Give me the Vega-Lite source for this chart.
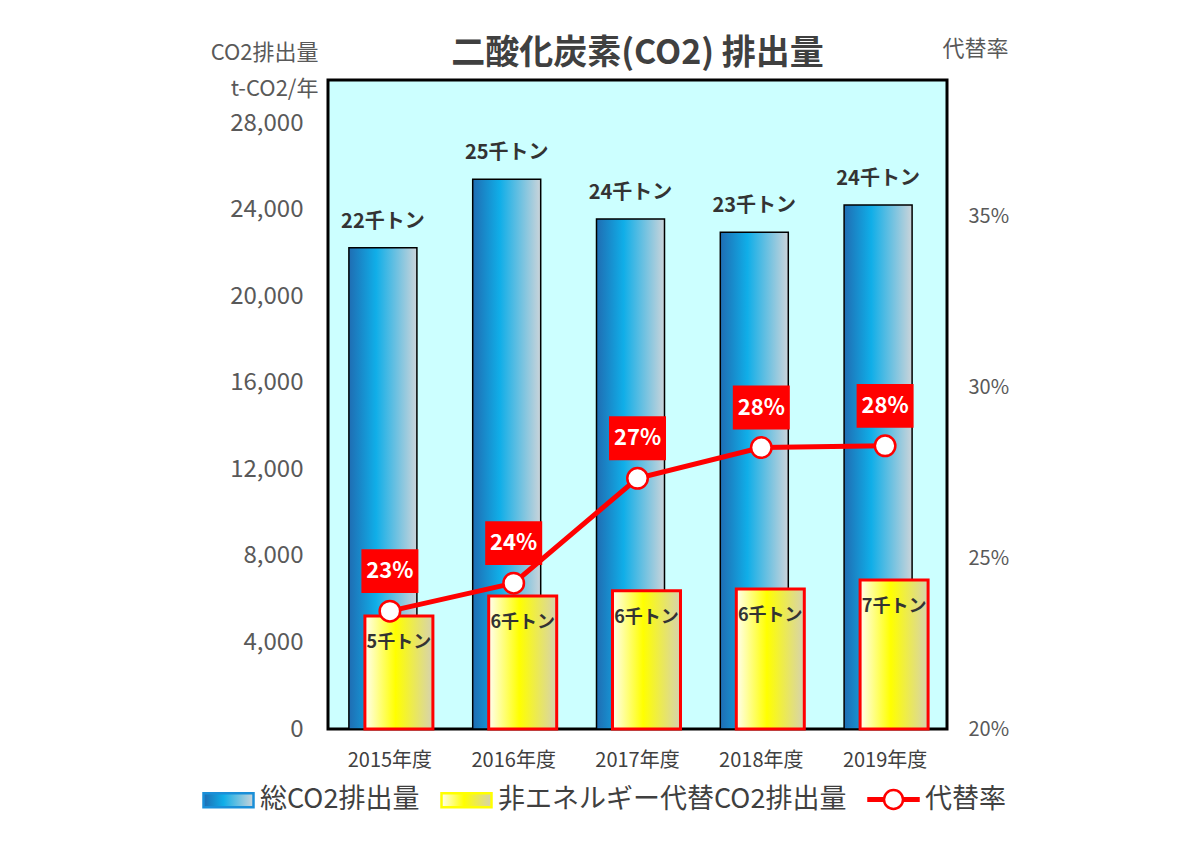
{
  "$schema": "https://vega.github.io/schema/vega-lite/v6.json",
  "autosize": {"type": "none"},
  "width": 619,
  "height": 649,
  "padding": {"left": 328, "top": 80, "right": 253, "bottom": 119},
  "background": "#ffffff",
  "config": {
    "font": "Noto Sans CJK JP",
    "view": {"fill": "#ccffff", "stroke": "#000000", "strokeWidth": 3},
    "axis": {"grid": false, "ticks": false, "tickSize": 0, "domain": false, "labelFont": "Noto Sans CJK JP", "labelColor": "#595959", "titleColor": "#595959", "titleFont": "Noto Sans CJK JP", "titleFontWeight": "normal"}
  },
  "title": {"text": "二酸化炭素(CO2) 排出量", "anchor": "middle", "frame": "group", "fontSize": 34, "fontWeight": "bold", "color": "#404040", "font": "Noto Sans CJK JP", "offset": -34},
  "data": {"values": [
    {"year": "2015年度", "total": 22250, "nonenergy": 5220, "rate": 0.2345, "total_label": "22千トン", "nonenergy_label": "5千トン"},
    {"year": "2016年度", "total": 25410, "nonenergy": 6150, "rate": 0.2427, "total_label": "25千トン", "nonenergy_label": "6千トン"},
    {"year": "2017年度", "total": 23580, "nonenergy": 6390, "rate": 0.2734, "total_label": "24千トン", "nonenergy_label": "6千トン"},
    {"year": "2018年度", "total": 22960, "nonenergy": 6470, "rate": 0.2824, "total_label": "23千トン", "nonenergy_label": "6千トン"},
    {"year": "2019年度", "total": 24220, "nonenergy": 6890, "rate": 0.2829, "total_label": "24千トン", "nonenergy_label": "7千トン"}
  ]},
  "encoding": {
    "x": {"field": "year", "type": "nominal", "sort": null, "scale": {"paddingInner": 0, "paddingOuter": 0},
      "axis": {"title": null, "labelAngle": 0, "labelFontSize": 20, "labelPadding": 21, "labelColor": "#404040"}}
  },
  "layer": [
    {
      "mark": {"type": "bar", "width": 68, "xOffset": -7, "stroke": "#000000", "strokeWidth": 1.5,
        "fill": {"gradient": "linear", "x1": 0, "y1": 0, "x2": 1, "y2": 0, "stops": [
          {"offset": 0, "color": "#1f6db3"}, {"offset": 0.4, "color": "#10aee8"}, {"offset": 1, "color": "#cbd4da"}]}},
      "encoding": {
        "y": {"field": "total", "type": "quantitative", "scale": {"domain": [0, 30000], "nice": false},
          "axis": {"orient": "left", "values": [0, 4000, 8000, 12000, 16000, 20000, 24000, 28000], "format": ",d", "labelFontSize": 24, "labelPadding": 25,
            "title": ["CO2排出量", "t-CO2/年"], "titleAngle": 0, "titleAlign": "right", "titleBaseline": "middle", "titleX": -10, "titleY": -28, "titleFontSize": 22, "titleLineHeight": 36}}
      }
    },
    {
      "mark": {"type": "bar", "width": 68, "xOffset": 9, "stroke": "#ff0000", "strokeWidth": 3,
        "fill": {"gradient": "linear", "x1": 0, "y1": 0, "x2": 1, "y2": 0, "stops": [
          {"offset": 0, "color": "#fffef0"}, {"offset": 0.45, "color": "#ffff00"}, {"offset": 1, "color": "#d6d2b0"}]}},
      "encoding": {"y": {"field": "nonenergy", "type": "quantitative", "scale": {"domain": [0, 30000], "nice": false}, "axis": null}}
    },
    {
      "mark": {"type": "text", "dx": -7, "dy": -26, "fontSize": 20, "fontWeight": "bold", "color": "#333333"},
      "encoding": {"y": {"field": "total", "type": "quantitative", "scale": {"domain": [0, 30000], "nice": false}, "axis": null}, "text": {"field": "total_label"}}
    },
    {
      "mark": {"type": "text", "dx": 9, "dy": 27, "fontSize": 18, "fontWeight": "bold", "color": "#333333"},
      "encoding": {"y": {"field": "nonenergy", "type": "quantitative", "scale": {"domain": [0, 30000], "nice": false}, "axis": null}, "text": {"field": "nonenergy_label"}}
    },
    {
      "mark": {"type": "line", "strokeWidth": 5},
      "encoding": {
        "y": {"field": "rate", "type": "quantitative", "scale": {"domain": [0.2, 0.39], "nice": false, "zero": false},
          "axis": {"orient": "right", "values": [0.2, 0.25, 0.3, 0.35], "format": ".0%", "labelFontSize": 20, "labelPadding": 21,
            "title": "代替率", "titleAngle": 0, "titleAlign": "right", "titleBaseline": "middle", "titleX": 61, "titleY": -32, "titleFontSize": 22}},
        "color": {"datum": "代替率", "type": "nominal",
          "scale": {"domain": ["総CO2排出量", "非エネルギー代替CO2排出量", "代替率"], "range": ["#1a8fd8", "#ffff00", "#ff0000"]},
          "legend": {"orient": "none", "legendX": -126, "legendY": 693, "direction": "horizontal", "title": null, "padding": 0,
            "labelFontSize": 27, "labelColor": "#404040", "labelFont": "Noto Sans CJK JP", "labelLimit": 600, "labelOffset": 5,
            "symbolSize": 2500, "symbolStrokeWidth": 2.5, "columnPadding": 16,
            "encoding": {
              "symbols": {
                "shape": {"value": {"expr": "datum.value === '代替率' ? 'M-1,-0.05H-0.38V0.05H-1Z M0.38,-0.05H1V0.05H0.38Z M0.38,0A0.38,0.38,0,1,1,-0.38,0A0.38,0.38,0,1,1,0.38,0Z' : 'M-1,-0.28H1V0.28H-1Z'"}},
                "fill": {"value": {"expr": "datum.value === '総CO2排出量' ? {gradient: 'linear', x1: 0, y1: 0, x2: 1, y2: 0, stops: [{offset: 0, color: '#1f6db3'}, {offset: 0.4, color: '#10aee8'}, {offset: 1, color: '#cbd4da'}]} : (datum.value === '代替率' ? '#ffffff' : {gradient: 'linear', x1: 0, y1: 0, x2: 1, y2: 0, stops: [{offset: 0, color: '#fffef0'}, {offset: 0.45, color: '#ffff00'}, {offset: 1, color: '#d6d2b0'}]})"}},
                "stroke": {"value": {"expr": "datum.value === '総CO2排出量' ? '#000000' : '#ff0000'"}},
                "strokeWidth": {"value": 2.5},
                "opacity": {"value": 1},
                "fillOpacity": {"value": 1},
                "strokeOpacity": {"value": 1}
              }
            }}
        }
      }
    },
    {
      "mark": {"type": "point", "shape": "circle", "filled": true, "fill": "#ffffff", "stroke": "#ff0000", "strokeWidth": 2.5, "size": 420, "opacity": 1},
      "encoding": {"y": {"field": "rate", "type": "quantitative", "scale": {"domain": [0.2, 0.39], "nice": false, "zero": false}, "axis": null}}
    },
    {
      "mark": {"type": "point", "shape": "M-1,-0.77H1V0.77H-1Z", "filled": true, "fill": "#ff0000", "strokeWidth": 0, "size": 3249, "opacity": 1, "yOffset": -40},
      "encoding": {"y": {"field": "rate", "type": "quantitative", "scale": {"domain": [0.2, 0.39], "nice": false, "zero": false}, "axis": null}}
    },
    {
      "mark": {"type": "text", "dy": -40, "fontSize": 22, "fontWeight": "bold", "color": "#ffffff"},
      "encoding": {"y": {"field": "rate", "type": "quantitative", "scale": {"domain": [0.2, 0.39], "nice": false, "zero": false}, "axis": null}, "text": {"field": "rate", "format": ".0%"}}
    }
  ],
  "resolve": {"scale": {"y": "independent"}}
}
